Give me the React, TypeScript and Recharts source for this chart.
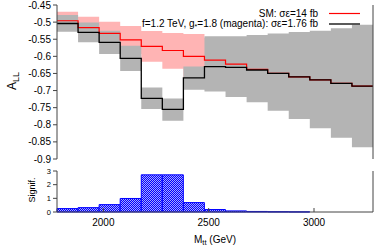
import React from "react";
import {
  ComposedChart, Area, Line, Bar, XAxis, YAxis,
} from "recharts";

// bin edges in M_tt (GeV)
const binEdges = [1780, 1880, 1980, 2080, 2180, 2280, 2380, 2480, 2580, 2680, 2780, 2880, 2980, 3080, 3180, 3280];

// SM expectation (red) and its band
const smValue = [-0.496, -0.516, -0.533, -0.552, -0.571, -0.583, -0.6, -0.611, -0.623, -0.638, -0.65, -0.66, -0.669, -0.679, -0.687];
const smHigh = [-0.47, -0.484, -0.499, -0.511, -0.526, -0.532, -0.535, -0.546, -0.555, -0.57, -0.58, -0.59, -0.6, -0.61, -0.62];
const smLow = [-0.522, -0.548, -0.567, -0.593, -0.616, -0.636, -0.667, -0.676, -0.69, -0.705, -0.72, -0.73, -0.74, -0.75, -0.755];

// f=1.2 TeV signal (black) and its band
const sigValue = [-0.504, -0.53, -0.559, -0.606, -0.723, -0.755, -0.663, -0.63, -0.632, -0.64, -0.65, -0.66, -0.669, -0.679, -0.687];
const sigHigh = [-0.479, -0.501, -0.525, -0.569, -0.691, -0.723, -0.63, -0.541, -0.541, -0.538, -0.533, -0.529, -0.525, -0.518, -0.508];
const sigLow = [-0.528, -0.559, -0.593, -0.643, -0.754, -0.788, -0.698, -0.703, -0.719, -0.734, -0.759, -0.783, -0.81, -0.838, -0.866];

// significance per bin
const signif = [0.25, 0.32, 0.54, 0.99, 2.72, 2.72, 0.69, 0.18, 0.08, 0.04, 0.02, 0.01, 0, 0, 0];

const allTicks = [-0.9, -0.85, -0.8, -0.75, -0.7, -0.65, -0.6, -0.55, -0.5, -0.45];
const massTicks = [2000, 2500, 3000];
const sigTicks = [0, 1, 2, 3];

const last = smValue.length - 1;
const stepData = binEdges.map((x, i) => {
  const k = Math.min(i, last);
  return {
    x,
    sm: smValue[k],
    smBand: [smLow[k], smHigh[k]],
    sig: sigValue[k],
    sigBand: [sigLow[k], sigHigh[k]],
  };
});

const histData = signif.map((s, i) => ({
  x: (binEdges[i] + binEdges[i + 1]) / 2,
  s,
}));

const FRAME = "#444";
const FONT = "'Liberation Sans', Arial, sans-serif";

const RightTick = (props: any) => (
  <line x1={props.x - 4} y1={props.y} x2={props.x} y2={props.y} stroke={FRAME} />
);

const BottomTick = (props: any) => (
  <g>
    <line x1={props.x} y1={props.y} x2={props.x} y2={props.y - 4} stroke={FRAME} />
    <text x={props.x} y={props.y + 14} textAnchor="middle" fontSize={10} fill="#000">
      {props.payload.value}
    </text>
  </g>
);

const TopTick = (props: any) => (
  <line x1={props.x} y1={props.y} x2={props.x} y2={props.y + 4} stroke={FRAME} />
);

export default function App() {
  return (
    <div style={{ position: "absolute", left: 0, top: 0, width: 374, height: 246, background: "#fff", fontFamily: FONT }}>
      {/* pattern lives in its own svg so the id is always in the document */}
      <svg width={0} height={0} style={{ position: "absolute" }}>
        <defs>
          <pattern id="checker" width="2" height="2" patternUnits="userSpaceOnUse">
            <rect width="2" height="2" fill="#a8a8ff" />
            <rect x="0" y="0" width="1" height="1" fill="#0000ff" />
            <rect x="1" y="1" width="1" height="1" fill="#0000ff" />
          </pattern>
        </defs>
      </svg>

      <ComposedChart width={374} height={165} data={stepData} margin={{ top: 5, right: 0, bottom: 6, left: 0 }}>
        <XAxis dataKey="x" type="number" domain={[1780, 3280]} tick={false} tickLine={false}
          height={0} axisLine={{ stroke: FRAME }} allowDataOverflow />
        <XAxis xAxisId="top" orientation="top" dataKey="x" type="number" domain={[1780, 3280]}
          tick={false} tickLine={false} height={0} axisLine={{ stroke: FRAME }} />
        <YAxis domain={[-0.9, -0.45]} ticks={allTicks} width={57} tickSize={4} tickMargin={2}
          interval={0} allowDataOverflow tick={{ fontSize: 10, fill: "#000" }}
          axisLine={{ stroke: FRAME }} tickLine={{ stroke: FRAME }} />
        <YAxis yAxisId="r" orientation="right" domain={[-0.9, -0.45]} ticks={allTicks} width={1}
          interval={0} tickSize={0} tickMargin={0} tickLine={false} tick={<RightTick />}
          axisLine={{ stroke: FRAME }} />
        <Area dataKey="smBand" type="stepAfter" stroke="none" fill="#ffb4b4" fillOpacity={1} isAnimationActive={false} />
        <Area dataKey="sigBand" type="stepAfter" stroke="none" fill="#b4b4b4" fillOpacity={1} isAnimationActive={false} />
        <Line dataKey="sm" type="stepAfter" stroke="#ff0000" strokeWidth={1.2} dot={false} activeDot={false} isAnimationActive={false} />
        <Line dataKey="sig" type="stepAfter" stroke="#000" strokeWidth={1.3} dot={false} activeDot={false} isAnimationActive={false} />
      </ComposedChart>

      <div style={{ position: "absolute", left: 0, top: 165 }}>
        <ComposedChart width={374} height={81} data={histData} margin={{ top: 6, right: 0, bottom: 0, left: 0 }}>
          <XAxis dataKey="x" type="number" domain={[1780, 3280]} ticks={massTicks} interval={0}
            height={34} tickSize={0} tickMargin={0} tickLine={false} tick={<BottomTick />}
            axisLine={{ stroke: FRAME }} />
          <XAxis xAxisId="top" orientation="top" dataKey="x" type="number" domain={[1780, 3280]}
            ticks={massTicks} interval={0} height={0} tickSize={0} tickMargin={0} tickLine={false}
            tick={<TopTick />} axisLine={{ stroke: FRAME }} />
          <YAxis domain={[0, 3]} ticks={sigTicks} interval={0} width={57} tickSize={4} tickMargin={2}
            tick={{ fontSize: 7.5, fill: "#000" }} axisLine={{ stroke: FRAME }} tickLine={{ stroke: FRAME }} />
          <YAxis yAxisId="r" orientation="right" domain={[0, 3]} ticks={sigTicks} interval={0} width={1}
            tickSize={0} tickMargin={0} tickLine={false} tick={<RightTick />} axisLine={{ stroke: FRAME }} />
          <Bar dataKey="s" barSize={21} fill="url(#checker)" stroke="#0000ff" strokeWidth={1} isAnimationActive={false} />
        </ComposedChart>
      </div>

      <svg width={374} height={246} style={{ position: "absolute", left: 0, top: 0, pointerEvents: "none" }}
        fontFamily={FONT}>
        <text fontSize={10} textAnchor="end" x={318} y={16.5}>SM: σε=14 fb</text>
        <line x1={329} x2={360} y1={13.5} y2={13.5} stroke="#ff0000" strokeWidth={1.2} />
        <text fontSize={10} textAnchor="end" x={318} y={27}>
          f=1.2 TeV, g<tspan fontSize={7} dy={2}>*</tspan><tspan dy={-2}>=1.8 (magenta): σε=1.76 fb</tspan>
        </text>
        <line x1={329} x2={360} y1={24} y2={24} stroke="#000" strokeWidth={1.3} />

        <text x={16} y={81} transform="rotate(-90 16 81)" textAnchor="middle" fontSize={12}>
          A<tspan fontSize={9} dy={3}>LL</tspan>
        </text>
        <text x={35} y={190} transform="rotate(-90 35 190)" textAnchor="middle" fontSize={9}>Signif.</text>
        <text x={215} y={243} textAnchor="middle" fontSize={10}>
          M<tspan fontSize={7.5} dy={2}>tt</tspan><tspan dy={-2}> (GeV)</tspan>
        </text>
      </svg>
    </div>
  );
}
